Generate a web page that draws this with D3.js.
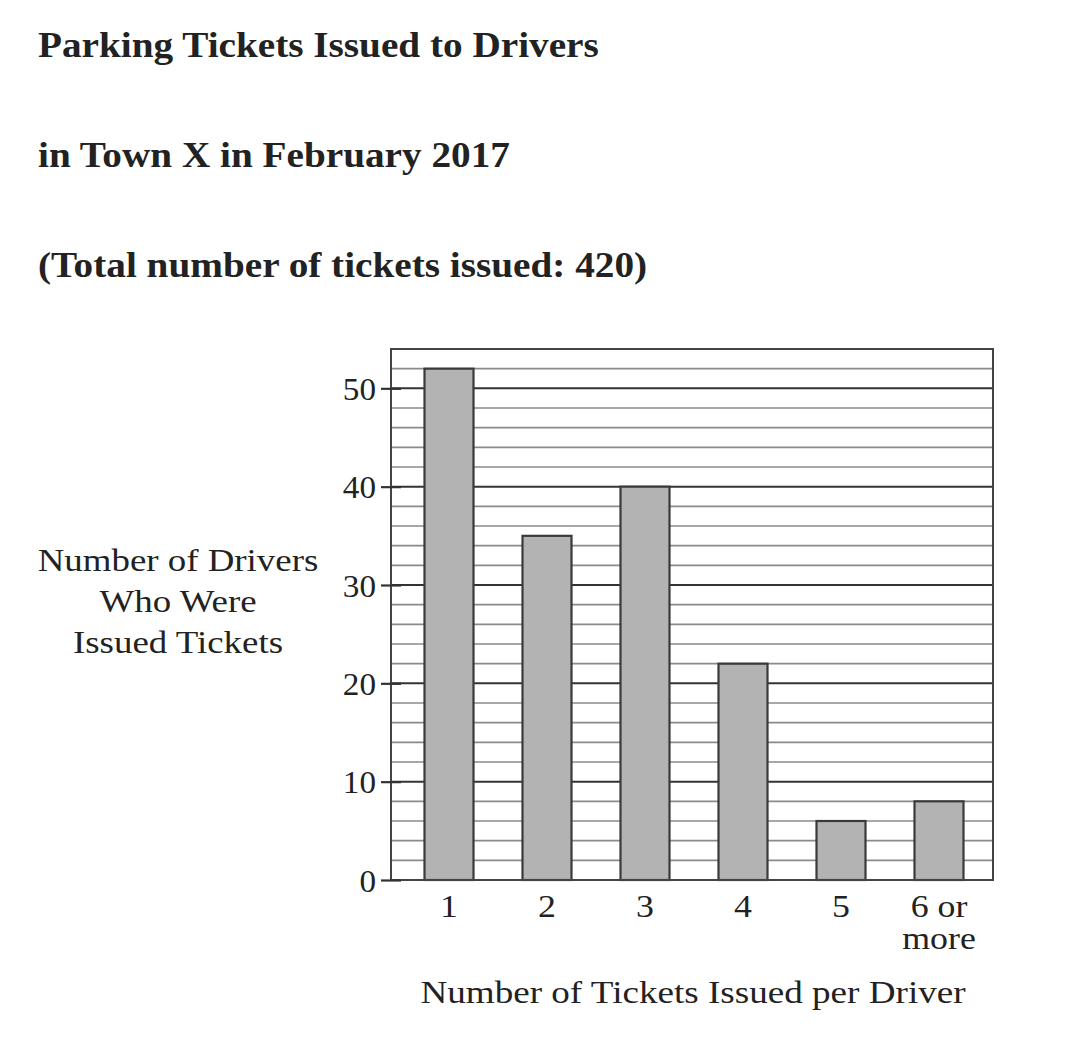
<!DOCTYPE html>
<html>
<head>
<meta charset="utf-8">
<script src="https://cdn.jsdelivr.net/npm/d3@7"></script>
<style>
body { margin: 0; background: #fff; }
text { font-family: "Liberation Serif", "Times New Roman", serif; fill: #222; }
</style>
</head>
<body>
<div id="chart"></div>
<script>
var w = 1073;
var h = 1039;

var categories = ["1", "2", "3", "4", "5", "6 or more"];
var drivers = [52, 35, 40, 22, 6, 8];
var yTicks = [0, 10, 20, 30, 40, 50];
var titleLines = ["Parking Tickets Issued to Drivers", "in Town X in February 2017", "(Total number of tickets issued: 420)"];
var yLabelLines = ["Number of Drivers", "Who Were", "Issued Tickets"];

var plotLeft = 391, plotRight = 993, plotTop = 349, plotBottom = 880;

var svg = d3.select("#chart").append("svg").attr("width", w).attr("height", h);

// the scanned lettering is wider than Liberation Serif, so widen it a bit
function stretch(k) {
    return function(sel) {
        sel.attr("transform", function(){
            var t = d3.select(this);
            var px = +t.attr("x") || 0, py = +t.attr("y") || 0;
            return "translate(" + px + "," + py + ") scale(" + k + ",1) translate(" + (-px) + "," + (-py) + ")";
        });
    };
}

// title
svg.selectAll("text.title").data(titleLines).enter().append("text")
    .attr("class", "title")
    .attr("x", 38)
    .attr("y", function(d, i){ return 57 + i * 110; })
    .attr("font-size", "36px")
    .attr("font-weight", "bold")
    .attr("fill", "#222")
    .text(function(d){ return d; })
    .call(stretch(1.09));

var x = d3.scaleBand().domain(categories).range([400, 988]).paddingInner(0.5).paddingOuter(0.25);
var y = d3.scaleLinear().domain([0, 54]).range([plotBottom, plotTop]);

// grid lines every 2, darker every 10
var grid = d3.range(2, 54, 2);
svg.selectAll("line.grid").data(grid).enter().append("line")
    .attr("x1", plotLeft).attr("x2", plotRight)
    .attr("y1", function(d){ return y(d); })
    .attr("y2", function(d){ return y(d); })
    .attr("stroke", function(d){ return d % 10 == 0 ? "#333" : "#8a8a8a"; })
    .attr("stroke-width", function(d){ return d % 10 == 0 ? 2 : 1.6; });

// bars
svg.selectAll("rect.bar").data(drivers).enter().append("rect")
    .attr("x", function(d, i){ return x(categories[i]); })
    .attr("y", function(d){ return y(d); })
    .attr("width", x.bandwidth())
    .attr("height", function(d){ return plotBottom - y(d); })
    .attr("fill", "#b3b3b3")
    .attr("stroke", "#3a3a3a")
    .attr("stroke-width", 2.2);

// frame
svg.append("rect")
    .attr("x", plotLeft).attr("y", plotTop)
    .attr("width", plotRight - plotLeft).attr("height", plotBottom - plotTop)
    .attr("fill", "none").attr("stroke", "#444").attr("stroke-width", 2);

// y axis
var yAxis = d3.axisLeft(y).tickValues(yTicks).tickSize(10).tickPadding(4);
var ya = svg.append("g").attr("transform", "translate(" + plotLeft + ",0)").call(yAxis);
ya.select(".domain").remove();
ya.selectAll(".tick line").attr("x2", 10).attr("x1", -10).attr("stroke", "#333").attr("stroke-width", 2.2);
ya.selectAll(".tick text").attr("font-size", "31px").attr("x", -15).attr("dy", "0.36em")
    .attr("font-family", "Liberation Serif").attr("fill", "#333")
    .call(stretch(1.07));

// x axis labels
var xAxis = d3.axisBottom(x).tickSize(0).tickPadding(0);
var xa = svg.append("g").attr("transform", "translate(0," + plotBottom + ")").call(xAxis);
xa.select(".domain").remove();
xa.selectAll(".tick text").each(function(d){
    var t = d3.select(this).text("").attr("x", 0).attr("y", 37).attr("dy", 0)
        .attr("font-size", "32px").attr("font-family", "Liberation Serif").attr("fill", "#333");
    var parts = d == "6 or more" ? ["6 or", "more"] : [d];
    parts.forEach(function(p, i){
        t.append("tspan").attr("x", 0).attr("dy", i == 0 ? 0 : 32).text(p);
    });
}).call(stretch(1.12));

// axis titles
svg.append("text")
    .attr("x", 693).attr("y", 1003)
    .attr("text-anchor", "middle")
    .attr("font-size", "32px")
    .attr("fill", "#333")
    .text("Number of Tickets Issued per Driver")
    .call(stretch(1.16));

svg.selectAll("text.ylab").data(yLabelLines).enter().append("text")
    .attr("class", "ylab")
    .attr("x", 178)
    .attr("y", function(d, i){ return 571 + i * 41; })
    .attr("text-anchor", "middle")
    .attr("font-size", "31px")
    .attr("fill", "#333")
    .text(function(d){ return d; })
    .call(stretch(1.19));
</script>
</body>
</html>
